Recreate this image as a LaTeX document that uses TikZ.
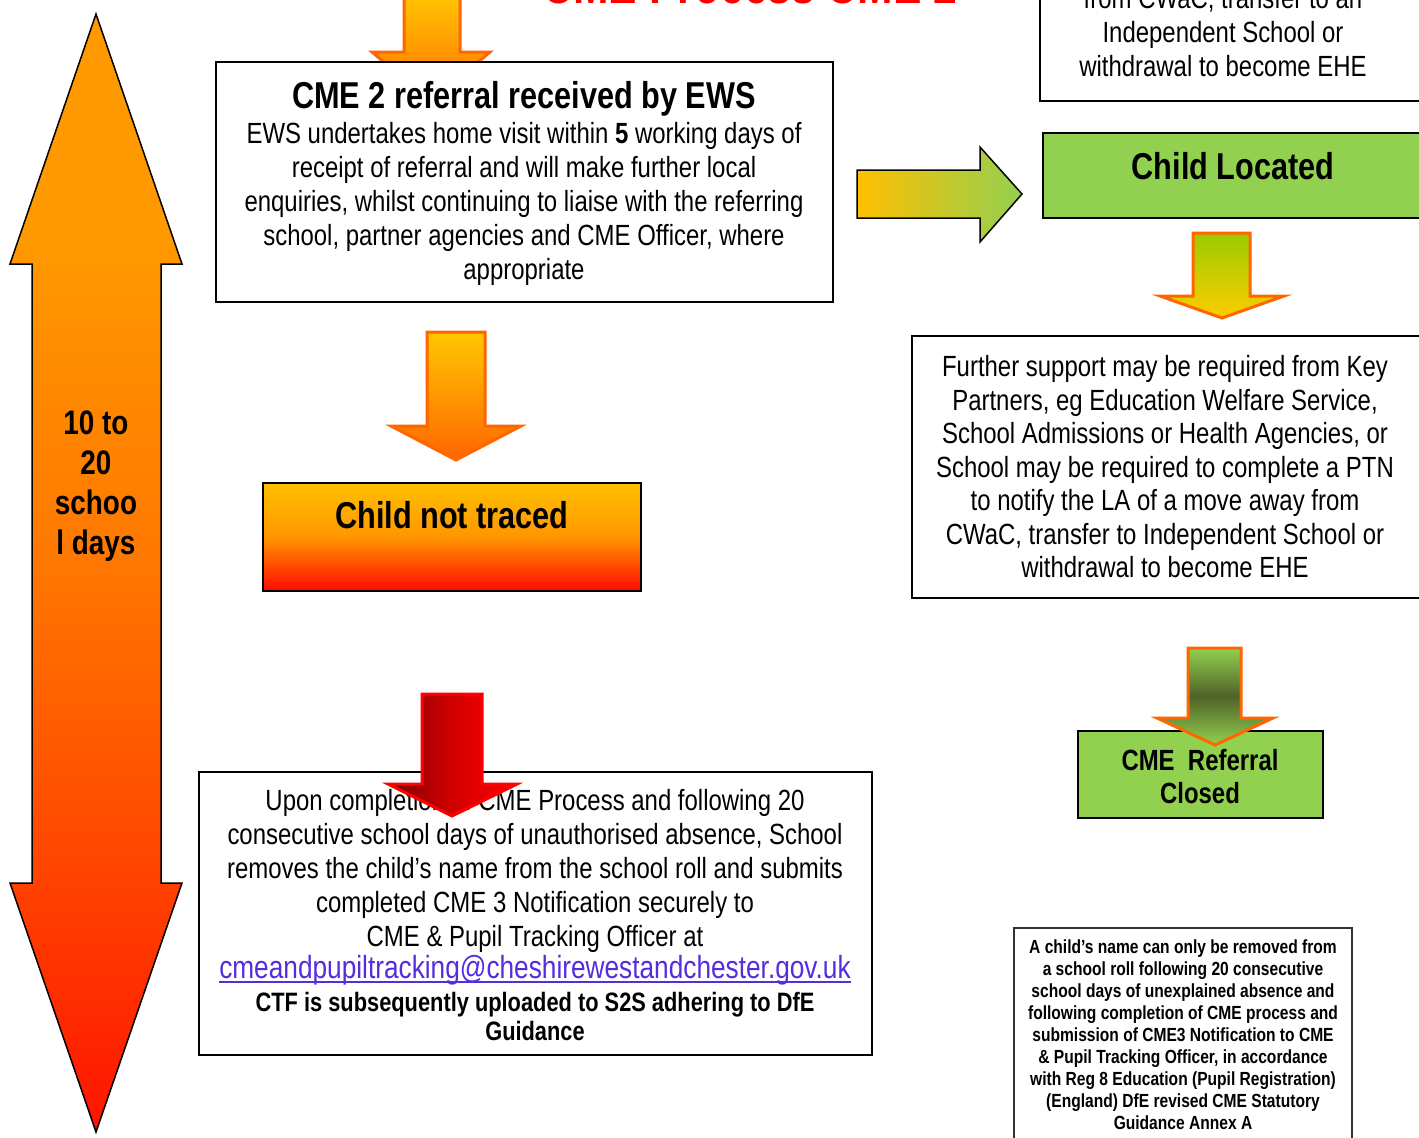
\documentclass[tikz,border=0pt]{standalone}
\usepackage{fontspec}
\setmainfont{Liberation Sans}[FakeStretch=0.82]
\definecolor{cOr}{RGB}{255,153,0}
\definecolor{cOr2}{RGB}{255,118,0}
\definecolor{cOr3}{RGB}{255,65,0}
\definecolor{cRd}{RGB}{255,20,0}
\definecolor{aOut}{RGB}{255,102,0}
\definecolor{aYel}{RGB}{255,200,0}
\definecolor{aOrB}{RGB}{255,110,0}
\definecolor{nYel}{RGB}{255,192,0}
\definecolor{nMid}{RGB}{255,150,0}
\definecolor{nRed}{RGB}{255,10,0}
\definecolor{gLime}{RGB}{146,208,80}
\definecolor{gDark}{RGB}{79,98,40}
\definecolor{gYG}{RGB}{153,204,0}
\definecolor{gYel}{RGB}{255,204,0}
\definecolor{rDark}{RGB}{128,0,0}
\definecolor{rMid}{RGB}{210,0,0}
\definecolor{rBright}{RGB}{255,0,0}
\definecolor{linkc}{RGB}{85,45,225}
\pgfdeclareverticalshading{bigarrowshade}{100bp}{color(0bp)=(cRd); color(25bp)=(cRd); color(36bp)=(cOr3); color(50bp)=(cOr2); color(65bp)=(cOr); color(100bp)=(cOr)}
\begin{document}
\begin{tikzpicture}[x=0.5pt,y=-0.5pt,
  box/.style={draw=black, line width=1pt, fill=white, inner sep=0pt, rectangle},
  txt/.style={align=center, inner sep=0pt, font=\fontsize{14.6}{17}\selectfont},
  btxt/.style={align=center, inner sep=0pt, font=\fontsize{18.7}{22}\selectfont\bfseries},
  blockarrow/.style={line width=1.5pt, line join=miter, draw=aOut}
]
\useasboundingbox (0,0) rectangle (1419,1137);

% left double arrow
\path[shading=bigarrowshade, draw=black, line width=0.75pt, line join=miter]
  (96,14) -- (182,264) -- (161,264) -- (161,883) -- (182,883) -- (96,1132)
  -- (10,883) -- (32,883) -- (32,264) -- (10,264) -- cycle;
\node[align=center, inner sep=0pt, font=\fontsize{17}{20}\selectfont\bfseries] (days) at (96,486) {10 to\\20\\schoo\\l days};

% title (cut off at top)
\node[anchor=base, inner sep=0pt, text=rBright, font=\fontsize{26}{30}\selectfont\bfseries] (title) at (750,3) {CME Process CME 2};

% top arrow into box 1
\path[blockarrow, top color=aYel, bottom color=aOrB]
  (404,-10) -- (460,-10) -- (460,52) -- (490,52) -- (431,102) -- (372,52) -- (404,52) -- cycle;

% box 1
\node[box, minimum width=308.5pt, minimum height=120pt] (b1) at (524.5,182) {};
\node[btxt] (b1t) at (524,99) {CME 2 referral received by EWS};
\node[txt] (b1b) at (524,203.5) {EWS undertakes home visit within \textbf{5} working days of\\receipt of referral and will make further local\\enquiries, whilst continuing to liaise with the referring\\school, partner agencies and CME Officer, where\\appropriate};

% arrow to child not traced
\path[blockarrow, top color=aYel, bottom color=aOut]
  (427,332) -- (485,332) -- (485,426) -- (521,426) -- (456,460) -- (391,426) -- (427,426) -- cycle;

% child not traced
\node[box, top color=nYel, bottom color=nRed, middle color=nMid, minimum width=189pt, minimum height=54pt] (b2) at (452,537) {};
\node[btxt] (b2t) at (452,515) {Child not traced};

% bottom box
\node[box, minimum width=336.5pt, minimum height=141.5pt] (b3) at (535.5,913.5) {};
\node[txt] (b3a) at (535,871) {Upon completion of CME Process and following 20\\consecutive school days of unauthorised absence, School\\removes the child’s name from the school roll and submits\\completed CME 3 Notification securely to\\CME \& Pupil Tracking Officer at};
\node[anchor=base, inner sep=0pt, text=linkc, font=\fontsize{16}{18}\selectfont] (b3l) at (535,978) {cmeandpupiltracking@cheshirewestandchester.gov.uk};
\draw[linkc, line width=1pt] ([yshift=-2pt]b3l.base west) -- ([yshift=-2pt]b3l.base east);
\node[align=center, inner sep=0pt, font=\fontsize{13.3}{14.5}\selectfont\bfseries] (b3b) at (535,1016) {CTF is subsequently uploaded to S2S adhering to DfE\\Guidance};

% red arrow on top
\path[line width=1.5pt, line join=miter, draw=rBright, left color=rDark, right color=rBright, middle color=rMid]
  (422,694) -- (482,694) -- (482,784) -- (517,784) -- (452,816) -- (388,784) -- (422,784) -- cycle;

% right arrow
\path[draw=black, line width=0.75pt, line join=miter, left color=nYel, right color=gLime]
  (857,170) -- (980,170) -- (980,147) -- (1022,194) -- (980,242) -- (980,218) -- (857,218) -- cycle;

% child located
\node[box, fill=gLime, minimum width=198.5pt, minimum height=42.5pt] (b4) at (1241.5,175.5) {};
\node[btxt] (b4t) at (1233,166) {Child Located};

% top right box (cut)
\node[box, minimum width=200pt, minimum height=80.5pt] (b5) at (1240,20.5) {};
\node[txt] (b5t) at (1223,32) {from CWaC, transfer to an\\Independent School or\\withdrawal to become EHE};

% arrow below child located
\path[blockarrow, top color=gYG, bottom color=gYel]
  (1193,233) -- (1250,233) -- (1250,296) -- (1284,296) -- (1222,318) -- (1160,296) -- (1193,296) -- cycle;

% further support box
\node[box, minimum width=264pt, minimum height=131pt] (b6) at (1176,467) {};
\node[align=center, inner sep=0pt, font=\fontsize{14.6}{16.75}\selectfont] (b6t) at (1165,467) {Further support may be required from Key\\Partners, eg Education Welfare Service,\\School Admissions or Health Agencies, or\\School may be required to complete a PTN\\to notify the LA of a move away from\\CWaC, transfer to Independent School or\\withdrawal to become EHE};

% CME referral closed
\node[box, fill=gLime, minimum width=122.5pt, minimum height=43.5pt] (b7) at (1200.5,774.5) {};
\node[align=center, inner sep=0pt, font=\fontsize{14.6}{16.5}\selectfont\bfseries] (b7t) at (1200,777) {CME\ \ Referral\\Closed};

% green arrow on top
\path[blockarrow, top color=gLime, bottom color=gLime, middle color=gDark]
  (1188,648) -- (1241,648) -- (1241,718) -- (1273,718) -- (1215,745) -- (1157,718) -- (1188,718) -- cycle;

% small note box
\node[box, draw=black!80, line width=0.8pt, minimum width=169pt, minimum height=116pt] (b8) at (1183,1044) {};
\node[align=center, inner sep=0pt, font=\fontsize{9.5}{11}\selectfont\bfseries] (b8t) at (1183,1035) {A child’s name can only be removed from\\a school roll following 20 consecutive\\school days of unexplained absence and\\following completion of CME process and\\submission of CME3 Notification to CME\\\& Pupil Tracking Officer, in accordance\\with Reg 8 Education (Pupil Registration)\\(England) DfE revised CME Statutory\\Guidance Annex A};
\end{tikzpicture}
\end{document}
